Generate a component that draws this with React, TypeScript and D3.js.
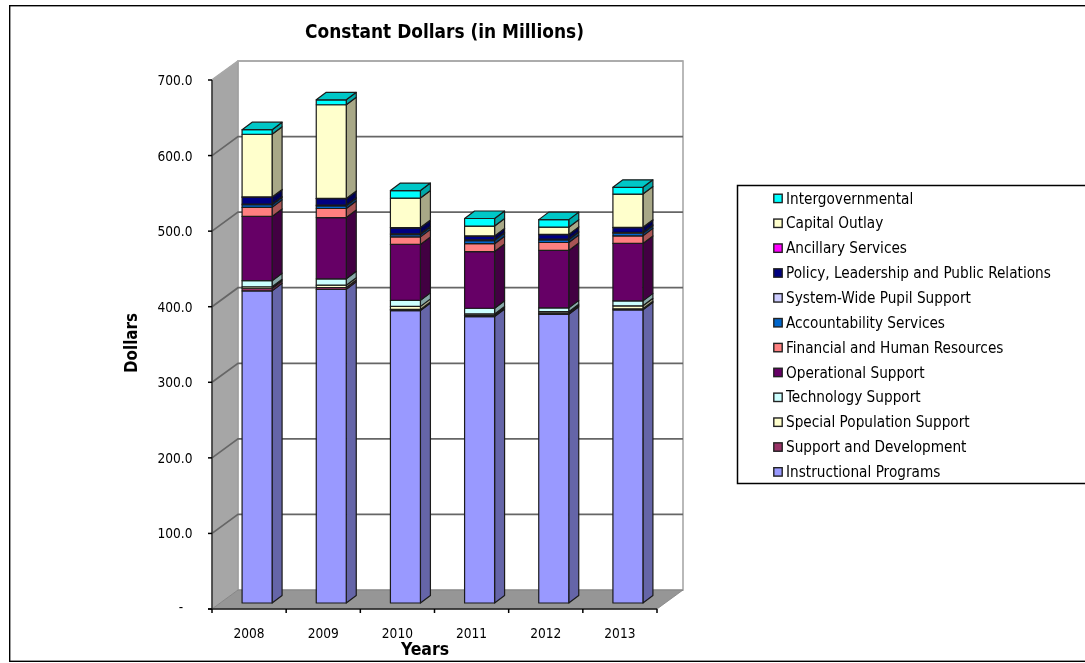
import React from "react";
import * as d3 from "d3";

const years = ["2008", "2009", "2010", "2011", "2012", "2013"];
const yTicks = [0, 100, 200, 300, 400, 500, 600, 700];

const instructional = [413, 415, 387, 379, 382, 388];
const supportDev = [3.5, 2.5, 1.5, 1.5, 1.5, 1.3];
const specialPop = [2, 3, 4, 2, 2, 4];
const technology = [8, 8.5, 8, 7.5, 5, 6.5];
const operational = [85, 81, 74, 75, 76, 76];
const financial = [12, 12, 10, 10.5, 10.5, 10];
const accountability = [3.5, 3.5, 3, 4, 3.5, 3.5];
const systemWide = [1, 1, 1, 1, 1, 1];
const policy = [9, 8.5, 8, 5, 6, 6.5];
const ancillary = [0.3, 0.3, 0.3, 0.3, 0.3, 0.3];
const capital = [83, 124, 39, 13, 9.5, 44];
const intergov = [6, 6.5, 10, 10, 10, 9];

const seriesNames = [
  "Instructional Programs",
  "Support and Development",
  "Special Population Support",
  "Technology Support",
  "Operational Support",
  "Financial and Human Resources",
  "Accountability Services",
  "System-Wide Pupil Support",
  "Policy, Leadership and Public Relations",
  "Ancillary Services",
  "Capital Outlay",
  "Intergovernmental",
];
const seriesValues = [
  instructional, supportDev, specialPop, technology, operational, financial,
  accountability, systemWide, policy, ancillary, capital, intergov,
];
const seriesColors = [
  "#9999FF", "#993366", "#FFFFCC", "#CCFFFF", "#660066", "#FF8080",
  "#0066CC", "#CCCCFF", "#000080", "#FF00FF", "#FFFFCC", "#00FFFF",
];

const FONT = "'DejaVu Sans', sans-serif";
const W = 1085, H = 663;
const axisX = 212, axisRight = 657, floorY = 609, topY = 80;
const depthX = 26, depthY = 19;
const barW = 30, barDX = 10, barDY = 7.5, barShiftX = 8, barShiftY = 6;

const x = d3.scaleBand<string>().domain(years).range([axisX, axisRight]);
const y = d3.scaleLinear().domain([0, 700]).range([floorY, topY]);
const rows = years.map((yr, i) => {
  const r: Record<string, number | string> = { year: yr };
  seriesNames.forEach((n, s) => (r[n] = seriesValues[s][i]));
  return r;
});
const stacked = d3.stack<any>().keys(seriesNames)(rows);
const poly = d3.line();
const path = (p: [number, number][]) => poly(p) + "Z";
const darken = (c: string, k: number) => {
  const q = d3.rgb(c);
  return d3.rgb(q.r * k, q.g * k, q.b * k).formatHex();
};
const legendY = d3.scalePoint<string>()
  .domain([...seriesNames].reverse())
  .range([198.5, 472]);
const cond = { fontStretch: "condensed" } as const;

export default function App() {
  const backL = axisX + depthX, backR = axisRight + depthX, backF = floorY - depthY;
  return (
    <svg width={W} height={H} viewBox={`0 0 ${W} ${H}`}
      style={{ position: "absolute", left: 0, top: 0, display: "block", background: "#fff" }}
      fontFamily={FONT}>
      <defs>
        <filter id="soft" x="0" y="0" width="100%" height="100%">
          <feGaussianBlur stdDeviation="0.45" />
        </filter>
      </defs>
      <g filter="url(#soft)">
        <rect x={9.5} y={5.5} width={1080} height={656} fill="#fff" stroke="#000" strokeWidth={1.8} />

        <text x={444.5} y={38} textAnchor="middle" fontSize={18.9} fontWeight="bold" style={cond}>Constant Dollars (in Millions)</text>

        {/* walls */}
        <rect x={backL} y={y(700) - depthY} width={backR - backL} height={backF - y(700) + depthY} fill="#fff" stroke="#A8A8A8" strokeWidth={1.6} />
        <path d={path([[axisX, y(700)], [backL, y(700) - depthY], [backL, backF], [axisX, floorY]])} fill="#A6A6A6" stroke="#999" strokeWidth={0.8} />
        <path d={path([[axisX, floorY], [backL, backF], [backR, backF], [axisRight, floorY]])} fill="#969696" stroke="#808080" strokeWidth={0.8} />

        {/* gridlines */}
        {yTicks.filter((t) => t > 0).map((t) => (
          <path key={t} fill="none" stroke={t === 700 ? "#A8A8A8" : "#666"} strokeWidth={1.7}
            d={poly([[axisX, y(t)], [backL, y(t) - depthY], [backR, y(t) - depthY]])!} />
        ))}

        {/* axes */}
        <line x1={axisX} x2={axisX} y1={topY} y2={floorY} stroke="#303030" strokeWidth={1.5} />
        <line x1={axisX - 4} x2={axisRight} y1={floorY} y2={floorY} stroke="#202020" strokeWidth={1.5} />
        {yTicks.map((t) => (
          <g key={t}>
            <line x1={axisX - 4} x2={axisX} y1={y(t)} y2={y(t)} stroke="#000" strokeWidth={1.5} />
            {t === 0 ? (
              <text x={181} y={y(t) + 3} textAnchor="middle" fontSize={13.6} style={cond}>-</text>
            ) : (
              <text x={192.5} y={y(t) + 5} textAnchor="end" fontSize={13.6} style={cond}>{t.toFixed(1)}</text>
            )}
          </g>
        ))}
        {[...years.map((yr) => x(yr)!), axisRight].map((px) => (
          <line key={px} x1={px} x2={px} y1={floorY} y2={floorY + 4} stroke="#000" strokeWidth={1.5} />
        ))}
        {years.map((yr) => (
          <text key={yr} x={x(yr)! + x.bandwidth() / 2} y={638} textAnchor="middle" fontSize={13.6} style={cond}>{yr}</text>
        ))}
        <text x={425} y={655} textAnchor="middle" fontSize={17.5} fontWeight="bold" style={cond}>Years</text>
        <text transform="translate(137,343) rotate(-90)" textAnchor="middle" fontSize={16.8} fontWeight="bold" style={cond}>Dollars</text>

        {/* bars */}
        {years.map((yr, i) => {
          const x0 = x(yr)! + x.bandwidth() / 2 + barShiftX - barW / 2;
          const x1 = x0 + barW;
          return (
            <g key={yr} stroke="#1a1a1a" strokeWidth={1.2} strokeLinejoin="round">
              {stacked.map((layer, s) => {
                const yb = y(layer[i][0]) - barShiftY;
                const yt = y(layer[i][1]) - barShiftY;
                const c = seriesColors[s];
                return (
                  <g key={s}>
                    <path d={path([[x1, yb], [x1 + barDX, yb - barDY], [x1 + barDX, yt - barDY], [x1, yt]])} fill={darken(c, 0.66)} />
                    <rect x={x0} y={yt} width={barW} height={yb - yt} fill={c} />
                  </g>
                );
              })}
              {(() => {
                const yt = y(stacked[stacked.length - 1][i][1]) - barShiftY;
                return (
                  <path d={path([[x0, yt], [x0 + barDX, yt - barDY], [x1 + barDX, yt - barDY], [x1, yt]])}
                    fill={darken(seriesColors[seriesColors.length - 1], 0.78)} />
                );
              })()}
            </g>
          );
        })}

        {/* legend */}
        <rect x={737.5} y={185.5} width={360} height={298} fill="#fff" stroke="#000" strokeWidth={1.5} />
        {seriesNames.map((n, s) => (
          <g key={n}>
            <rect x={773.8} y={legendY(n)! - 4.3} width={8.4} height={8.4} fill={seriesColors[s]} stroke="#222" strokeWidth={1.4} />
            <text x={786} y={legendY(n)! + 5} fontSize={15.2} style={cond}>{n}</text>
          </g>
        ))}
      </g>
    </svg>
  );
}
